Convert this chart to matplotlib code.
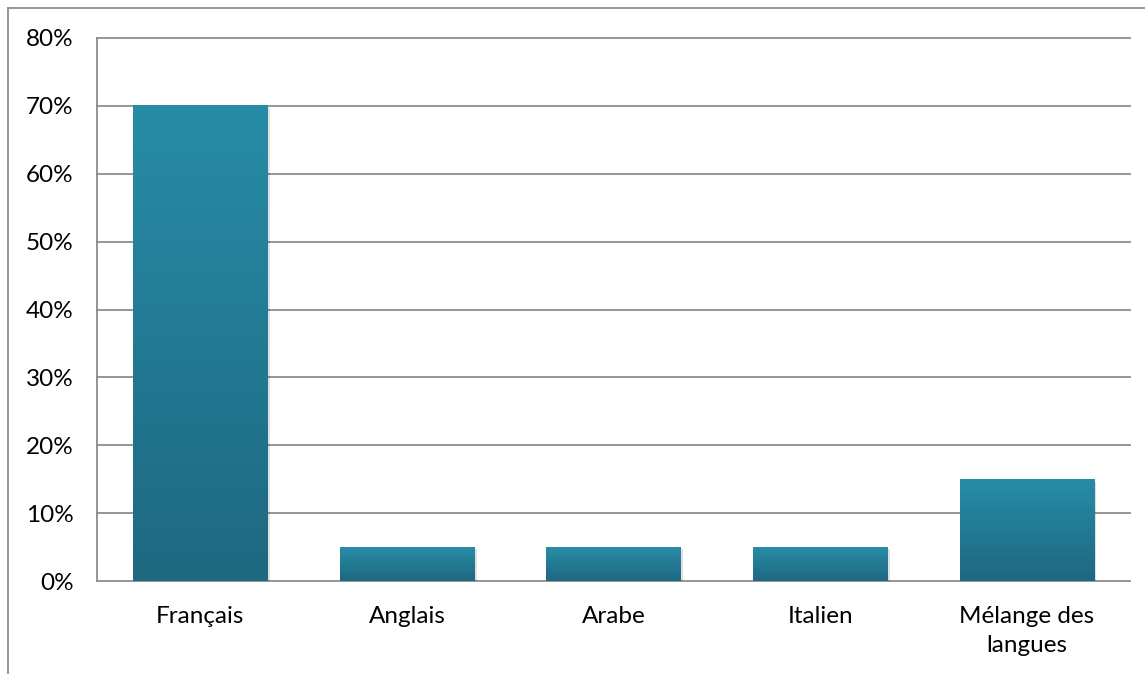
import matplotlib.pyplot as plt
import numpy as np
from matplotlib.colors import LinearSegmentedColormap
from matplotlib.lines import Line2D
from matplotlib.patches import Rectangle

plt.rcParams['font.family'] = ['Lato', 'DejaVu Sans']

categories = ['Français', 'Anglais', 'Arabe', 'Italien', 'Mélange des\nlangues']
values = [70, 5, 5, 5, 15]
yticks = [0, 10, 20, 30, 40, 50, 60, 70, 80]

W, H = 1145, 674
fig = plt.figure(figsize=(W / 100, H / 100), dpi=100)
ax = fig.add_axes([97 / W, 1 - 581 / H, (1130 - 97) / W, (581 - 38) / H])

cmap = LinearSegmentedColormap.from_list('bar', ['#1e6880', '#288ca7'])
grad = np.linspace(0, 1, 256).reshape(-1, 1)
bw = 0.65
for i, v in enumerate(values):
    # soft shadow
    ax.add_patch(Rectangle((i - bw / 2 + 0.012, -0.35), bw, v, facecolor='#000000',
                           alpha=0.12, edgecolor='none', zorder=2))
    ax.imshow(grad, extent=(i - bw / 2, i + bw / 2, 0, v), origin='lower',
              cmap=cmap, aspect='auto', zorder=3)

ax.set_xlim(-0.5, len(categories) - 0.5)
ax.set_ylim(0, 80)
ax.set_yticks(yticks)
ax.set_yticklabels(['{}%'.format(t) for t in yticks], fontsize=17.5, color='#000000')
ax.set_xticks(range(len(categories)))
ax.set_xticklabels(categories, fontsize=17.5, color='#000000', linespacing=1.5)
ax.tick_params(axis='both', length=0)
ax.tick_params(axis='y', pad=17)
ax.tick_params(axis='x', pad=18)
ax.yaxis.grid(True, color='#8c8c8c', linewidth=1.3)
for gl in ax.get_ygridlines():
    gl.set_clip_on(False)
ax.set_axisbelow(True)
for s in ['top', 'right', 'bottom']:
    ax.spines[s].set_visible(False)
ax.spines['left'].set_color('#8c8c8c')
ax.spines['left'].set_linewidth(1.3)

# outer chart border (only left and top edges visible)
fig.add_artist(Line2D([8 / W, 8 / W], [0, 1 - 8 / H], color='#8c8c8c', linewidth=1.3))
fig.add_artist(Line2D([8 / W, 1], [1 - 8 / H, 1 - 8 / H], color='#8c8c8c', linewidth=1.3))

fig.savefig('out.png', dpi=100)
